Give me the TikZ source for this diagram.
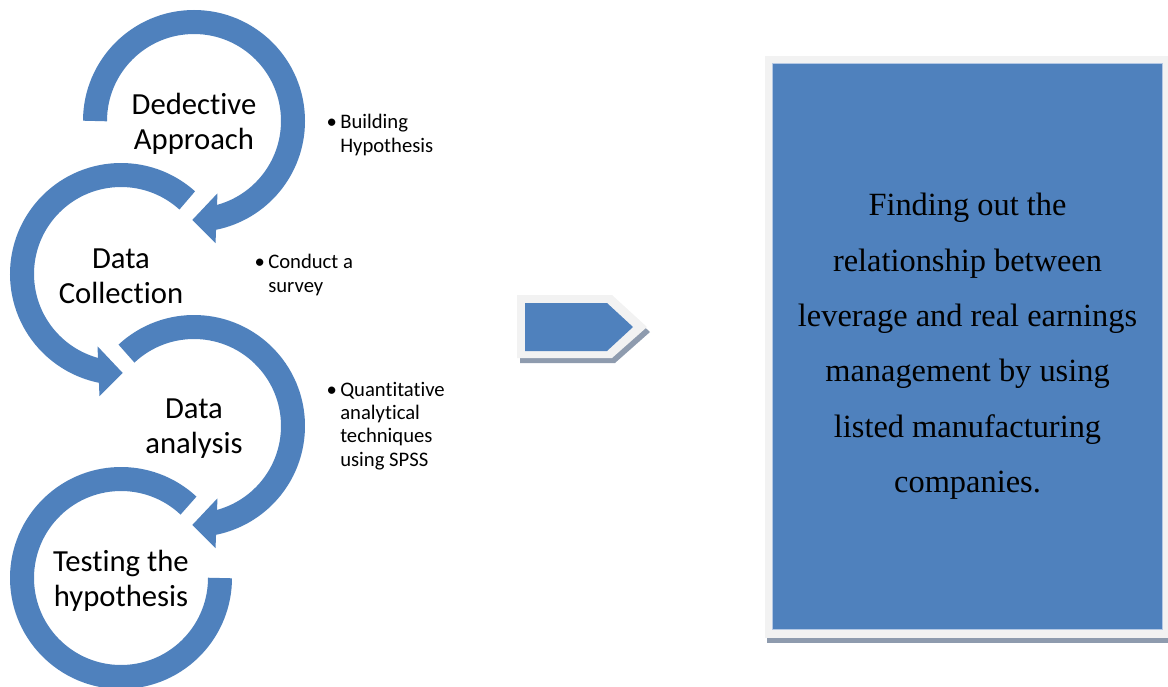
\documentclass[tikz,border=0pt]{standalone}
\usepackage{fontspec}
\setmainfont{Carlito}[Ligatures=CommonOff]
\newfontfamily\boxfont{Liberation Serif}
\usetikzlibrary{calc}
\definecolor{ringblue}{HTML}{4F81BD}
\definecolor{framegrey}{HTML}{F2F2F2}
\definecolor{shadegrey}{HTML}{8E9BAE}
\definecolor{edgeblue}{HTML}{B4C8E4}
\begin{document}
\begin{tikzpicture}[
	x=0.75pt, y=0.75pt,
	ring/.style={draw=ringblue, line width=18pt},
	steptext/.style={align=center, inner sep=0pt, yshift=-1.8pt, font=\fontsize{23}{26.25}\selectfont},
	notetext/.style={align=left, anchor=west, inner sep=0pt, font=\fontsize{15.5}{17.4}\selectfont},
	resultbox/.style={fill=ringblue, draw=edgeblue, line width=0.6pt, align=center,
		minimum width=293pt, minimum height=425pt, inner sep=0pt,
		font=\boxfont\fontsize{24.3}{41.5}\selectfont},
]
\useasboundingbox (0,0) rectangle (1168,-686);

% circle arrows
\coordinate (c1) at (194,-121);
\coordinate (c2) at (121,-274);
\coordinate (c3) at (194,-426);
\coordinate (c4) at (121,-578);

\draw[ring] (c1) ++(180:99) arc[start angle=180, end angle=-79, radius=99];
\fill[ringblue] ($(c1)+(-72:76)$) -- ($(c1)+(-80:124)$) -- ($(c1)+(-91:99)$) -- cycle;
\draw[ring] (c2) ++(48:99) arc[start angle=48, end angle=259, radius=99];
\fill[ringblue] ($(c2)+(-108:76)$) -- ($(c2)+(-100:124)$) -- ($(c2)+(-89:99)$) -- cycle;
\draw[ring] (c3) ++(133:99) arc[start angle=133, end angle=-79, radius=99];
\fill[ringblue] ($(c3)+(-72:76)$) -- ($(c3)+(-80:124)$) -- ($(c3)+(-91:99)$) -- cycle;
\draw[ring] (c4) ++(47:99) arc[start angle=47, end angle=360, radius=99];

\node[steptext] (deductive) at (c1) {Dedective\\Approach};
\node[steptext] (collection) at (c2) {Data\\Collection};
\node[steptext] (analysis) at (c3) {Data\\analysis};
\node[steptext] (testing) at (c4) {Testing the\\hypothesis};

% bullet notes
\node[notetext] (hypo) at (340,-135) {\llap{\textbullet\hspace{2.5pt}}Building\\Hypothesis};
\node[notetext] (survey) at (268,-275) {\llap{\textbullet\hspace{2.5pt}}Conduct a\\survey};
\node[notetext] (spss) at (340,-426) {\llap{\textbullet\hspace{2.5pt}}Quantitative\\analytical\\techniques\\using SPSS};

% middle arrow
\fill[shadegrey] (520,-300) -- (615,-300) -- (650,-332) -- (615,-363) -- (520,-363) -- cycle;
\fill[framegrey] (517,-295) -- (612,-295) -- (647,-327) -- (612,-358) -- (517,-358) -- cycle;
\fill[ringblue] (525,-303) -- (607,-303) -- (633,-327) -- (607,-351) -- (525,-351) -- cycle;

% result box
\fill[shadegrey] (767,-61) rectangle (1172,-643);
\fill[framegrey] (765,-56) rectangle (1170,-638);
\node[resultbox] (result) at (967.5,-346.5) {Finding out the\\relationship between\\leverage and real earnings\\management by using\\listed manufacturing\\companies.};
\end{tikzpicture}
\end{document}
